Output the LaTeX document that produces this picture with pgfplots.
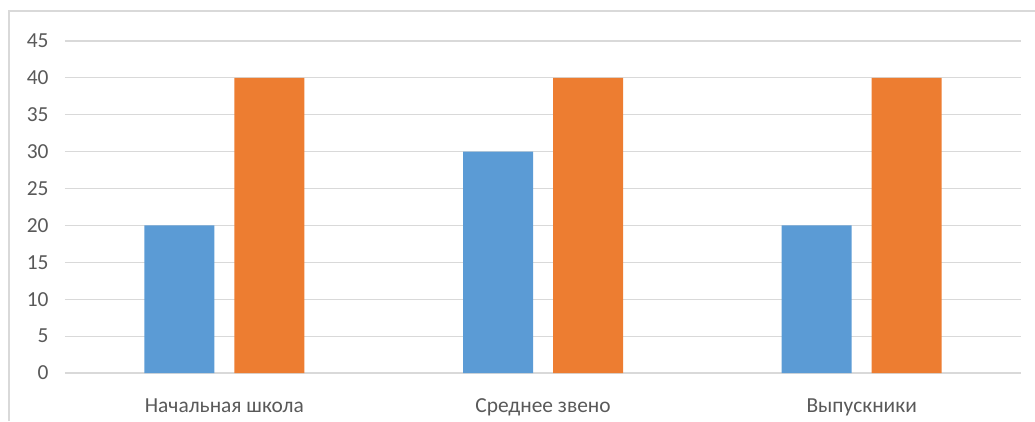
\documentclass[border=0pt]{standalone}
\usepackage{fontspec}
\setmainfont{Carlito}
\usepackage{pgfplots}
\pgfplotsset{compat=1.18}
\definecolor{barblue}{HTML}{5B9BD5}
\definecolor{barorange}{HTML}{ED7D31}
\definecolor{gridgray}{HTML}{D9D9D9}
\definecolor{txtgray}{HTML}{595959}
\begin{document}
\begin{tikzpicture}[x=1bp,y=1bp]
  % page extent: 1035 x 421 bp, axis box lower left sits at (65, 48) from lower left
  \useasboundingbox (-65,-48) rectangle (970,373);
  \draw[gridgray, line width=1.2bp] (-56,-48) -- (-56,362) -- (970,362);
  \begin{axis}[
    at={(0,0)}, anchor=south west,
    scale only axis,
    width=956bp, height=332bp,
    xmin=-0.5, xmax=2.5,
    ymin=0, ymax=45,
    ytick distance=5,
    xtick={0,1,2},
    xticklabels={Начальная школа,Среднее звено,Выпускники},
    axis line style={draw=none},
    tick style={draw=none},
    ymajorgrids,
    grid style={gridgray, line width=1.2bp},
    ybar,
    bar width=70bp,
    /pgf/number format/assume math mode=true,
    tick label style={font=\fontsize{21.5}{24}\selectfont, text=txtgray},
    yticklabel style={xshift=-13bp},
    xticklabel style={yshift=-18bp},
  ]
    \addplot[fill=barblue, draw=none, bar shift=-45bp]
      coordinates {(0,20) (1,30) (2,20)};
    \addplot[fill=barorange, draw=none, bar shift=45bp]
      coordinates {(0,40) (1,40) (2,40)};
  \end{axis}
\end{tikzpicture}
\end{document}
